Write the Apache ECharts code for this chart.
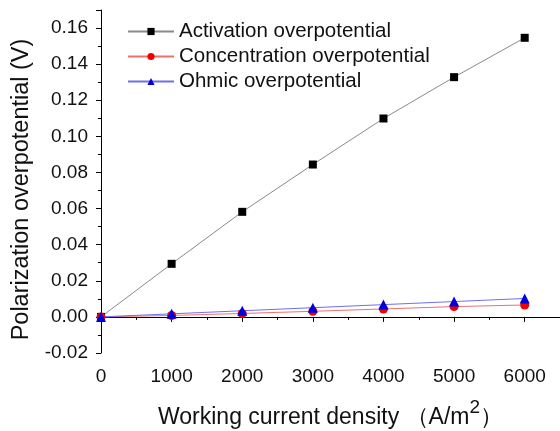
<!DOCTYPE html>
<html>
<head>
<meta charset="utf-8">
<script src="https://cdn.jsdelivr.net/npm/echarts@6/dist/echarts.min.js"></script>
<style>html,body{margin:0;padding:0;background:#fff;}#c{width:560px;height:431px;}</style>
</head>
<body>
<div id="c"></div>
<script>
const currentDensity = [0, 1000, 2000, 3000, 4000, 5000, 6000];
const activation = [0, 0.0294, 0.0582, 0.0844, 0.1099, 0.1328, 0.1546];
const concentration = [0, 0.0008, 0.0019, 0.0031, 0.0044, 0.0057, 0.0066];
const ohmic = [0, 0.0017, 0.0034, 0.0051, 0.0068, 0.0085, 0.0102];
const seriesNames = ['Activation overpotential', 'Concentration overpotential', 'Ohmic overpotential'];

const pairs = arr => currentDensity.map((x, i) => [x, arr[i]]);
const font = 'Liberation Sans, Arial, sans-serif';

const chart = echarts.init(document.getElementById('c'), null, {renderer: 'canvas'});
chart.setOption({
  animation: false,
  backgroundColor: '#fff',
  grid: {left: 101, right: 0, top: 10, bottom: 78, containLabel: false, outerBoundsMode: 'none'},
  legend: {
    left: 122, top: 15, orient: 'vertical', itemGap: 2,
    itemWidth: 46, itemHeight: 9,
    textStyle: {fontFamily: font, fontSize: 20.5, color: '#111', padding: [0,0,0,0], lineHeight: 23},
    data: seriesNames
  },
  xAxis: {
    type: 'value', min: 0, max: 6500, interval: 1000,
    name: 'Working current density （A/m{sup|2}）',
    nameLocation: 'middle', nameGap: 45,
    nameTextStyle: {fontFamily: font, fontSize: 23, color: '#111',
      rich: {sup: {fontFamily: font, fontSize: 19, verticalAlign: 'bottom', padding: [0,0,20,0], color:'#111'}}},
    axisLine: {show: true, lineStyle: {color: '#000', width: 1}},
    axisTick: {show: true, inside: false, length: 5, lineStyle: {color: '#000'}},
    minorTick: {show: true, splitNumber: 2, length: 3, lineStyle: {color: '#000'}},
    axisLabel: {fontFamily: font, fontSize: 19, color: '#111', margin: 14,
      formatter: v => (v > 6000 ? '' : String(v))},
    splitLine: {show: false}
  },
  yAxis: {
    type: 'value', min: -0.02, max: 0.17, interval: 0.02,
    name: 'Polarization overpotential (V)',
    nameLocation: 'middle', nameGap: 64, nameRotate: 90,
    nameTextStyle: {fontFamily: font, fontSize: 23.5, color: '#111', padding: [0, 16, 0, 0]},
    axisLine: {show: true, onZero: false, lineStyle: {color: '#000', width: 1}},
    axisTick: {show: true, inside: false, length: 5, lineStyle: {color: '#000'}},
    minorTick: {show: true, splitNumber: 2, length: 3, lineStyle: {color: '#000'}},
    axisLabel: {fontFamily: font, fontSize: 19, color: '#111', margin: 13,
      formatter: v => (v > 0.165 ? '' : v.toFixed(2))},
    splitLine: {show: false}
  },
  series: [
    {name: seriesNames[0], type: 'line', data: pairs(activation),
     symbol: 'rect', symbolSize: 8, itemStyle: {color: '#000'},
     lineStyle: {color: '#8a8a8a', width: 1}},
    {name: seriesNames[1], type: 'line', data: pairs(concentration),
     symbol: 'circle', symbolSize: 9, itemStyle: {color: '#ee0000'},
     lineStyle: {color: '#f07070', width: 1}},
    {name: seriesNames[2], type: 'line', data: pairs(ohmic),
     symbol: 'triangle', symbolSize: 10, itemStyle: {color: '#0000dd'},
     lineStyle: {color: '#6f6ff0', width: 1}}
  ]
});
</script>
</body>
</html>
